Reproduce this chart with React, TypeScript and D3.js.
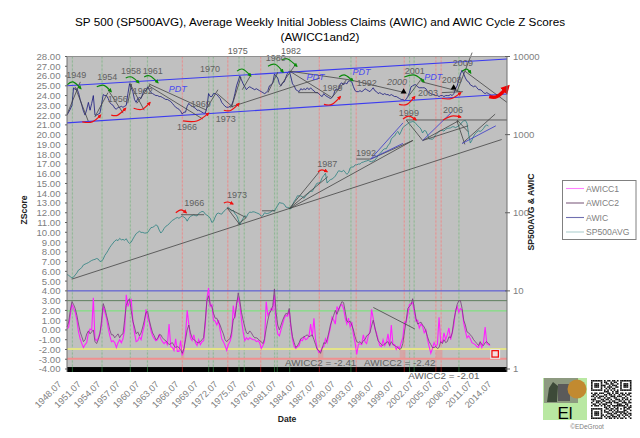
import React from "react";
import * as d3 from "d3";

const startYear = 1948.58;
const quarterStep = 0.25;

const awicValues = [
  22.0,22.3,22.6,23.0, 24.8,24.6,24.7,24.3, 23.6,23.0,22.4,22.0, 22.6,23.3,22.5,23.2,
  24.0,22.0,22.0,22.1, 22.2,23.1,24.1,24.0, 24.0,23.7,23.3,23.1, 23.0,22.7,22.6,22.8,
  22.8,22.9,22.8,22.9, 23.0,24.2,25.2,24.8, 24.4,23.6,23.3,23.7, 23.8,23.7,24.2,24.6,
  24.5,24.9,24.6,24.3, 24.2,24.1,24.0,24.0, 23.9,23.9,23.8,23.7, 23.6,23.6,23.5,23.4,
  23.2,23.0,22.8,22.7, 22.6,22.4,22.1,22.3, 22.3,22.9,23.2,23.0, 22.9,22.8,22.7,22.5,
  22.5,22.4,22.3,22.2, 22.2,22.8,24.2,23.9, 23.9,24.2,24.2,24.1, 23.9,23.7,23.3,23.1,
  22.9,22.8,22.8,22.9, 23.0,23.5,24.2,25.0, 25.5,26.0,25.6,25.2, 24.9,24.6,24.8,24.9,
  24.8,24.7,24.6,24.7, 24.6,24.5,24.4,24.3, 24.2,24.3,24.5,25.0, 25.1,25.3,26.2,26.0,
  25.8,25.2,25.0,25.3, 25.4,25.9,26.3,26.5, 25.9,25.2,25.0,24.6, 24.5,24.4,24.7,24.6,
  24.7,24.6,24.8,24.6, 24.8,24.6,24.5,24.3, 24.3,24.2,24.0,23.9, 24.2,24.0,23.9,23.8,
  23.7,23.8,24.1,24.6, 24.6,24.7,25.2,25.3, 25.1,25.3,25.2,25.5, 25.5,25.4,24.9,24.5,
  24.4,24.4,24.5,24.4, 24.5,24.7,24.6,24.5, 24.4,24.6,24.8,24.5, 24.4,24.2,24.3,24.2,
  24.1,24.2,24.1,24.1, 24.0,24.1,24.0,23.9, 23.9,23.8,23.7,23.6, 23.6,23.5,23.6,23.9,
  24.3,24.9,25.0,25.1, 25.1,24.9,24.8,24.8, 24.8,24.8,24.7,24.4, 24.3,24.2,24.1,24.1,
  24.0,24.0,23.9,24.0, 24.0,23.9,24.0,24.0, 24.0,24.1,24.0,24.2, 24.7,25.0,25.6,26.2,
  26.6,26.2,25.8,25.5, 25.4,25.1,25.0,24.9, 25.0,24.8,24.6,24.6, 24.5,24.3,24.2,24.3,
  24.2,24.1,24.0,23.9, 23.7,
];

const sp500Values = [
  16.2,15.8,15.2,14.6, 15.0,16.0,17.0,18.5, 19.0,20.0,21.5,22.0, 22.5,23.0,23.8,24.5,
  25.0,25.3,26.0,25.5, 23.8,24.0,25.5,28.5, 30.5,33,36,38.5, 41,43.5,45,44,
  47,45,45.5,44.5, 46.5,42.5,40.5,42, 46,50,54,56, 58,56,56,55,
  55,56,60,64.5, 65,67,70,68, 60,55,58,63, 67,69,72,76,
  80,82,85,87, 85,88,91,88, 85,78,85,90, 92,94,92,91,
  98,101,104,103, 96,93,90,85, 75,78,88,97, 99,97,96,103,
  107,113,118,112, 105,108,97,93, 82,70,78,85, 92,88,97,102,
  101,103,102,100, 98,96,90,92, 100,98,98,100, 103,108,105,115,
  124,135,133,132, 128,118,117,115, 112,125,140,150, 165,164,164,160,
  153,165,172,180, 190,187,205,225, 240,240,250,280, 300,320,240,255,
  265,270,280,295, 320,345,340,335, 350,330,310,325, 375,385,385,410,
  410,420,420,440, 445,455,460,470, 455,450,460,470, 500,540,570,600,
  640,660,660,730, 760,880,930,960, 1050,1100,1000,1100, 1230,1280,1330,1380,
  1440,1450,1470,1450, 1380,1300,1250,1180, 1050,1130,1110,1000, 880,880,870,920,
  1000,1050,1100,1130, 1130,1110,1170,1200, 1210,1220,1260,1260, 1230,1260,1300,1350,
  1450,1500,1520,1400, 1000,780,850,950, 1030,1080,1120,1100, 1130,1200,1290,1330,
  1290,
];

const awicc1Values = [
  0.1,0.3,1.5,2.6, 2.2,1.8,1.0,-0.2, -0.9,-1.4,-1.8,-1.5, -1.3,-0.3,0.1,0.0,
  3.3,-0.9,-1.1,-0.8, -0.3,0.5,2.4,1.8, 1.2,0.2,-0.6,-1.2, -1.1,-1.3,-1.8,-1.3,
  -1.0,-1.3,-0.9,0.0, 3.6,2.4,2.9,3.1, 1.0,-0.3,-1.2,-1.1, -0.7,-1.0,-0.2,0.5,
  2.1,1.2,0.8,-0.1, -0.6,-0.9,-1.1,-1.0, -0.5,-0.9,-1.2,-1.4, -1.2,-1.5,0.6,-1.7,
  -1.8,-2.1,-0.9,-2.2, -2.2,-1.1,-2.6,-2.1, -0.5,2.0,0.6,-0.8, -1.1,-0.5,-1.3,-1.6,
  -1.0,-1.5,-1.2,-1.1, 0.5,3.2,4.3,2.4, 2.6,1.0,0.9,0.5, 1.0,0.0,-0.9,-1.2,
  -1.6,-2.1,-1.5,-1.2, -0.6,2.5,1.2,2.8, 3.3,2.6,1.0,-0.2, -1.1,-0.8,-1.0,-0.8,
  -0.9,-1.0,-1.0,-1.2, -1.1,-1.3,-1.9,-1.6, -1.2,2.9,1.5,1.8, 2.2,2.0,3.6,0.6,
  -0.4,-0.6,0.0,0.6, 1.2,1.5,1.4,2.0, 0.3,-1.0,-1.7,-1.9, -1.7,-1.6,-1.0,-1.1,
  -0.7,-1.0,-0.9,-0.6, 0.6,-0.7,1.2,-1.0, -1.9,-2.3,-2.2,-1.8, -1.7,-0.9,-1.3,-0.5,
  0.2,1.3,1.0,0.6, 2.4,2.0,2.5,2.6, 2.2,1.2,0.6,1.2, 0.3,0.8,-0.5,-1.3,
  -2.5,-1.5,-1.4,-1.5, -0.5,-1.2,-1.4,-0.6, -0.2,2.1,1.2,0.1, -0.3,-1.0,-1.6,-1.7,
  -1.0,-1.6,-1.3,-0.4, -1.7,0.5,-1.5,-1.5, -2.0,-1.7,-1.9,-1.3, -0.8,0.8,0.8,1.6,
  2.6,2.7,2.8,1.8, 0.9,1.0,0.2,0.6, 0.4,-0.3,0.0,-1.0, -1.7,-2.4,-1.9,-1.3,
  -1.7,-1.5,1.3,-1.2, -1.3,-0.3,-1.0,-0.5, 0.2,-1.0,-0.3,0.5, 2.0,2.4,1.8,2.2,
  2.0,0.7,-0.1,-0.8, -0.6,-0.9,-1.3,-1.4, -1.5,-1.7,-1.8,-1.3, -1.8,-1.3,0.3,-1.4,
  -1.5,-1.6,
];

const awicc2Values = [
  0.3,0.8,2.0,2.9, 2.6,2.2,1.5,0.6, -0.2,-0.7,-1.2,-1.0, -0.4,-0.1,-0.4,-0.2,
  0.0,-1.2,-1.4,-1.0, -0.4,1.0,2.7,2.2, 1.5,0.8,0.0,-0.5, -0.5,-0.8,-0.6,-0.4,
  -0.8,-0.5,-0.4,1.0, 2.5,3.0,3.2,2.0, 0.9,0.3,-0.4,-0.2, -0.6,-0.3,0.3,1.0,
  1.8,1.9,1.0,0.3, -0.3,-0.6,-1.0,-0.9, -0.5,-0.5,-0.8,-1.0, -1.1,-1.3,-1.5,-1.4,
  -1.3,-1.6,-1.8,-1.7, -1.8,-2.0,-2.4,-1.9, -1.0,0.0,0.5,-0.3, -0.8,-1.0,-1.1,-1.3,
  -1.3,-1.2,-1.0,-0.8, 1.0,3.0,3.5,2.6, 2.4,1.7,1.2,1.2, 0.8,0.5,0.0,-0.4,
  -1.0,-1.2,-1.0,-0.9, -0.2,1.0,1.4,2.5, 3.8,3.0,1.8,1.0, 0.3,-0.3,-0.4,-0.1,
  -0.3,-0.6,-0.8,-0.8, -0.9,-1.1,-1.2,-1.4, -0.9,0.1,1.0,1.7, 2.0,2.5,4.2,1.8,
  0.5,0.0,0.5,1.0, 1.4,1.7,1.6,2.2, 0.5,-0.7,-1.3,-1.8, -1.6,-1.3,-0.9,-0.8,
  -0.7,-0.6,-0.5,-0.7, -0.6,-0.5,-1.0,-1.5, -2.0,-2.1,-2.4,-1.9, -1.3,-1.4,-1.0,-0.3,
  0.5,1.0,1.5,2.0, 1.6,2.1,2.5,2.9, 2.8,1.9,0.9,0.8, 0.9,0.5,0.0,-0.7,
  -1.2,-1.3,-1.2,-1.4, -1.1,-1.0,-0.6,-0.5, -0.3,0.4,1.0,0.3, -0.5,-1.1,-1.3,-1.5,
  -1.6,-1.4,-1.3,-1.2, -1.6,-1.2,-1.5,-1.6, -1.7,-1.8,-2.0,-1.9, -1.4,-0.2,0.9,2.2,
  2.4,2.6,3.2,2.2, 1.2,0.6,0.7,0.8, 0.5,0.3,-0.1,-0.7, -1.2,-1.5,-1.8,-1.8,
  -1.7,-1.9,-1.8,-1.2, -1.4,-1.0,-1.3,-1.2, -0.7,-0.8,-0.3,1.0, 1.8,2.6,3.0,3.0,
  2.2,1.0,0.5,-0.2, -0.3,-0.5,-0.7,-1.0, -1.2,-1.4,-1.6,-1.2, -1.5,-1.6,-1.3,-1.2,
  -1.4,-1.5,
];

const zTicks = d3.range(-4, 29);
const logTicks = [1, 10, 100, 1000, 10000];
const dateLabels = ["1948.07","1951.07","1954.07","1957.07","1960.07","1963.07","1966.07","1969.07","1972.07","1975.07","1978.07","1981.07","1984.07","1987.07","1990.07","1993.07","1996.07","1999.07","2002.07","2005.07","2008.07","2011.07","2014.07"];

const greenYears = [1949.4,1953.9,1958.2,1960.8,1970.1,1970.8,1974.7,1975.5,1980.1,1980.5,1982.4,1991.7,2000.6,2001.3,2008.1];
const redYears = [1966.1,1973.0,1978.0,1986.9,1992.5,1999.8,2004.6,2005.4];
const redBands: number[][] = [[1965.9,1966.4],[1986.7,1987.5],[1999.1,1999.98],[2004.6,2005.6]];

// [year, z, year, z]
const channelLines = [[1948.58,25.0,2015.4,27.74],[1948.58,21.2,2015.4,24.16]];
const blackLines = [
  [1948.6,22.1,1950.6,25.4],[1949.8,24.9,1951.8,21.4],[1952.8,21.8,1954.8,24.3],[1954.8,24.6,1957.1,22.2],
  [1957.8,23.2,1958.4,25.2],[1958.1,25.3,1960.3,22.5],[1959.2,23.2,1961.2,25.1],
  [1961.0,25.2,1969.8,22.5],[1961.0,25.0,1969.2,21.6],[1969.8,22.7,1971.5,24.6],[1971.4,24.2,1973.8,22.8],
  [1973.6,22.9,1975.0,25.9],[1976.5,26.1,1975.2,24.6],[1973.3,22.8,1987.0,25.8],
  [1979.1,24.3,1980.6,26.4],[1980.9,24.9,1983.2,27.1],[1982.4,26.5,1991.6,25.6],[1982.4,26.5,1988.8,23.8],
  [1983.7,24.3,1986.7,24.3],[1988.8,23.8,1991.0,25.6],[1991.6,25.6,1999.9,24.3],[2000.4,23.9,2002.5,25.8],
  [2002.5,25.4,2008.3,24.4],[2005.5,24.3,2008.7,24.4],[2007.8,24.4,2010.1,28.4],[2009.0,26.5,2015.4,23.3],
  [1949.3,5.2,2014.6,19.5],[1982.3,12.4,1986.9,16.2],[1982.3,12.4,1988.2,15.7],[1982.3,12.4,2001.1,19.4],
  [1994.7,17.5,2001.1,19.4],[2000.1,21.5,2015.4,21.5],[2000.1,21.5,2002.6,19.4],
  [2002.6,19.4,2008.0,21.4],[2002.6,19.4,2009.5,20.9],[2007.8,21.4,2009.0,19.0],[2007.8,21.5,2009.5,20.3],
  [2008.6,19.1,2013.6,22.1],[1972.9,12.5,1975.8,11.5],[1972.9,12.5,1974.8,10.8],[1974.5,10.8,1975.8,11.5],
  [1965.9,11.8,1969.4,11.8],[1978.2,12.2,1980.2,12.2],[1992.5,17.5,1994.7,17.5],[1995.1,2.3,2001.4,0.1],
];
const blueLines = [
  [1994.7,17.5,1999.6,21.2],[1994.7,17.5,1999.6,19.1],[2002.6,19.4,2007.0,22.3],[2008.6,19.1,2013.7,20.9],
];

const greenArrows = [
  [1948.6,25.1,1949.5,25.4,1950.7,24.7],[1953.1,24.9,1954.2,25.05,1955.3,24.4],[1957.5,25.8,1958.4,25.9,1959.5,25.3],
  [1960.3,25.9,1961.2,26.0,1962.4,25.3],[1974.4,26.5,1975.3,26.7,1976.5,26.0],[1979.1,27.0,1980.2,27.2,1981.4,26.4],
  [1981.2,27.64,1982.1,27.75,1983.5,27.0],[1989.9,25.9,1990.8,26.1,1992.0,25.5],[1999.8,25.9,2001.4,26.1,2002.8,25.4],
  [2008.6,26.5,2009.3,26.7,2009.9,26.3],
];
const redArrows = [
  [1950.9,21.3,1952.4,21.3,1953.7,22.0],[1955.3,22.0,1956.3,22.0,1957.5,22.7],[1958.7,22.7,1960.0,22.6,1961.2,23.3],
  [1966.2,21.4,1968.3,21.4,1970.1,22.2],[1972.4,22.5,1973.5,22.5,1974.7,23.2],[1987.6,23.1,1988.8,23.1,1990.1,23.9],
  [1999.0,23.1,2000.2,23.1,2001.4,23.9],[2005.5,23.7,2007.0,23.7,2008.4,24.3],
  [1965.1,12.0,1965.9,12.3,1966.7,12.0],[1972.4,13.0,1973.0,13.1,1973.8,12.9],[1986.7,16.2,1987.3,16.4,1988.1,16.2],
  [1999.6,21.6,2000.5,21.9,2001.6,21.5],[2005.7,21.5,2007.0,21.9,2008.4,21.8],
];
const bigArrow = [2012.7,23.9,2013.9,23.9,2015.4,24.8];
const blackMarkers = [[1999.7,24.4],[2007.3,24.8]];

const yearNotes: [number, number, string][] = [
  [1950,26.1,"1949"],[1954.7,25.9,"1954"],[1958.3,26.5,"1958"],[1961.6,26.5,"1961"],[1956.3,23.7,"1956"],[1960.1,24.5,"1962"],
  [1966.8,20.8,"1966"],[1968.9,23.2,"1969"],[1970.3,26.7,"1970"],[1972.7,21.6,"1973"],[1974.5,28.6,"1975"],[1980.3,27.85,"1980"],
  [1982.6,28.6,"1982"],[1988.9,24.8,"1989"],[1994.1,25.3,"1992"],[2001.4,26.5,"2001"],[2003.4,24.3,"2003"],[2007.0,25.6,"2008"],
  [2008.7,27.4,"2009"],[1967.9,13,"1966"],[1974.4,13.8,"1973"],[1988.1,17,"1987"],[1994,18.1,"1992"],[2000.5,22.2,"1999"],[2007.2,22.5,"2006"],
];
const italicNotes: [number, number, string][] = [[1998.7,25.4,"2000"]];
const pdtNotes: [number, number][] = [[1965.4,24.7],[1986.3,25.9],[1993.3,26.4],[2004.2,25.9]];
const awiccNotes: [number, number, string][] = [[1981.7,-3.37,"AWICC2 = -2.41"],[1993.7,-3.37,"AWICC2 = -2.42"],[2000.4,-4.7,"AWICC2 = -2.01"]];
const currentMark = [2013.6, -2.45];

const legendNames = ["AWICC1","AWICC2","AWIC","SP500AVG"];
const legendColors = ["#ff80ff","#806080","#7070b0","#b0d0d0"];

const qrRows = [
  "1111111010110110101111111","1000001011001011001000001","1011101001101100101011101","1011101110010111001011101",
  "1011101010111001101011101","1000001001010110001000001","1111111010101010101111111","0000000011100101100000000",
  "1011011100110101101101011","0110100011011010010110110","1101011101001110111001001","0010110010110011000110100",
  "1110001101101001110101101","0101110110010110011010010","1001101001111011100111011","0110010111001000111001100",
  "1011101010110111111110101","0000000011010010100011011","1111111001101101101010110","1000001010011010100011001",
  "1011101011100101111110100","1011101000111011001011011","1011101101001100110101101","1000001010110111010010010",
  "1111111001011010101101001",
];

const plot = { left: 67, right: 507, top: 56.5, bottom: 372 };
const x = d3.scaleLinear().domain([startYear, 2015.4]).range([plot.left, plot.right]);
const z = d3.scaleLinear().domain([-4, 28]).range([369, 56.5]);
const logY = d3.scaleLog().domain([1, 10000]).range([369, 56.5]);
const labelX = d3.scalePoint<string>().domain(dateLabels).range([62, 492]);
const fmt = (v: number) => d3.format(".2f")(v).replace("\u2212", "-");
const dateOf = (i: number) => startYear + i * quarterStep;

const zLine = d3.line<number>().x((_, i) => x(dateOf(i))).y((v) => z(v));
const logLine = d3.line<number>().x((_, i) => x(dateOf(i))).y((v) => logY(v));
const arc = d3.line<number[]>().x((p) => x(p[0])).y((p) => z(p[1])).curve(d3.curveNatural);
const arcPath = (a: number[]) => arc([[a[0], a[1]], [a[2], a[3]], [a[4], a[5]]]) || "";

const font = "'Liberation Sans', Arial, sans-serif";
const grey = "#808080";

export default function App() {
  return (
    <svg width={640} height={438} viewBox="0 0 640 438" style={{ position: "absolute", left: 0, top: 0, display: "block", background: "#fff" }} fontFamily={font}>
      <defs>
        <marker id="gh" markerWidth="5" markerHeight="5" refX="3" refY="2" orient="auto" markerUnits="userSpaceOnUse"><path d="M0,0L4,2L0,4Z" fill="#0a8a0a" /></marker>
        <marker id="rh" markerWidth="5" markerHeight="5" refX="3" refY="2" orient="auto" markerUnits="userSpaceOnUse"><path d="M0,0L4,2L0,4Z" fill="#f01010" /></marker>
        <marker id="bh" markerWidth="12" markerHeight="12" refX="5" refY="5" orient="auto" markerUnits="userSpaceOnUse"><path d="M0,0L9,5L0,10Z" fill="#f00000" /></marker>
      </defs>

      <text x={320} y={26} textAnchor="middle" fontSize={11.7} fill="#000">SP 500 (SP500AVG), Average Weekly Initial Jobless Claims (AWIC) and AWIC Cycle Z Scores</text>
      <text x={320} y={41} textAnchor="middle" fontSize={11.7} fill="#000">(AWICC1and2)</text>

      <rect x={plot.left} y={plot.top} width={plot.right - plot.left} height={plot.bottom - plot.top} fill="#c0c0c0" />

      {greenYears.map((y, i) => <g key={i}><line x1={x(y)} x2={x(y)} y1={plot.top} y2={plot.bottom} stroke="#b2c4b2" strokeWidth={1.4} /><line x1={x(y)} x2={x(y)} y1={plot.top} y2={plot.bottom} stroke="#7aa884" strokeWidth={0.6} strokeDasharray="2 2" /></g>)}
      {redYears.map((y, i) => <g key={i}><line x1={x(y)} x2={x(y)} y1={plot.top} y2={plot.bottom} stroke="#d2b2b2" strokeWidth={1.4} /><line x1={x(y)} x2={x(y)} y1={plot.top} y2={plot.bottom} stroke="#e88080" strokeWidth={0.6} strokeDasharray="2 2" /></g>)}

      {redBands.map((b, i) => <rect key={i} x={x(b[0])} width={x(b[1]) - x(b[0])} y={z(-1.9)} height={z(-2.95) - z(-1.9)} fill="#d8a0a0" opacity={0.8} />)}

      <line x1={plot.left} x2={plot.right} y1={z(4)} y2={z(4)} stroke="#4a4ad8" strokeWidth={1} />
      <line x1={plot.left} x2={plot.right} y1={z(3)} y2={z(3)} stroke="#5f7f5f" strokeWidth={1} />
      <line x1={plot.left} x2={plot.right} y1={z(1.95)} y2={z(1.95)} stroke="#70e870" strokeWidth={1} />
      <line x1={plot.left} x2={plot.right} y1={z(-1.95)} y2={z(-1.95)} stroke="#e4e488" strokeWidth={2} />
      <line x1={plot.left} x2={plot.right} y1={z(-2.95)} y2={z(-2.95)} stroke="#f09090" strokeWidth={2} />

      <rect x={plot.left} y={z(-3.8)} width={plot.right - plot.left} height={plot.bottom - z(-3.8)} fill="#000" />
      {greenYears.map((y, i) => <line key={i} x1={x(y)} x2={x(y)} y1={z(-3.8)} y2={plot.bottom} stroke="#1f5a2a" strokeWidth={1} />)}
      {redYears.map((y, i) => <line key={i} x1={x(y)} x2={x(y)} y1={z(-3.8)} y2={plot.bottom} stroke="#7a1010" strokeWidth={1} />)}

      <path d={zLine(awicc1Values) || ""} fill="none" stroke="#ff20ff" strokeWidth={1.1} />
      <path d={zLine(awicc2Values) || ""} fill="none" stroke="#7a3a7e" strokeWidth={0.8} />
      <path d={logLine(sp500Values) || ""} fill="none" stroke="#2a8080" strokeWidth={0.8} />
      <path d={zLine(awicValues) || ""} fill="none" stroke="#16167e" strokeWidth={0.8} />

      {channelLines.map((l, i) => <line key={i} x1={x(l[0])} y1={z(l[1])} x2={x(l[2])} y2={z(l[3])} stroke="#3c3cf0" strokeWidth={1.1} />)}
      {blackLines.map((l, i) => <line key={i} x1={x(l[0])} y1={z(l[1])} x2={x(l[2])} y2={z(l[3])} stroke="#444" strokeWidth={0.8} />)}
      {blueLines.map((l, i) => <line key={i} x1={x(l[0])} y1={z(l[1])} x2={x(l[2])} y2={z(l[3])} stroke="#4646c8" strokeWidth={0.9} />)}
      {greenArrows.map((a, i) => <path key={i} d={arcPath(a)} fill="none" stroke="#0a8a0a" strokeWidth={1.2} markerEnd="url(#gh)" />)}
      {redArrows.map((a, i) => <path key={i} d={arcPath(a)} fill="none" stroke="#f01010" strokeWidth={1.2} markerEnd="url(#rh)" />)}
      <path d={arcPath(bigArrow)} fill="none" stroke="#f00000" strokeWidth={3.4} markerEnd="url(#bh)" />
      {blackMarkers.map((m, i) => <path key={i} d={d3.symbol().type(d3.symbolTriangle).size(16)() || ""} transform={`translate(${x(m[0])},${z(m[1])})`} fill="#000" />)}

      <rect x={x(currentMark[0]) - 5} y={z(currentMark[1]) - 5} width={10} height={10} fill="#e6e6e6" />
      <rect x={x(currentMark[0]) - 3.2} y={z(currentMark[1]) - 3.2} width={6.4} height={6.4} fill="#f4dcdc" stroke="#f00000" strokeWidth={1.2} />

      {yearNotes.map((n, i) => <text key={i} x={x(n[0])} y={z(n[1])} dy="0.35em" textAnchor="middle" fontSize={9} fill="#606060">{n[2]}</text>)}
      {italicNotes.map((n, i) => <text key={i} x={x(n[0])} y={z(n[1])} dy="0.35em" textAnchor="middle" fontSize={9} fontStyle="italic" fill="#606060">{n[2]}</text>)}
      {pdtNotes.map((n, i) => <text key={i} x={x(n[0])} y={z(n[1])} dy="0.35em" textAnchor="middle" fontSize={9} fontStyle="italic" fill="#4a4af0">PDT</text>)}
      {awiccNotes.map((n, i) => <text key={i} x={x(n[0])} y={z(n[1])} dy="0.35em" fontSize={9.8} fill="#606060">{n[2]}</text>)}

      <line x1={plot.left} x2={plot.left} y1={plot.top} y2={plot.bottom} stroke="#707070" />
      <line x1={plot.right} x2={plot.right} y1={plot.top} y2={plot.bottom} stroke="#707070" />
      <line x1={plot.left} x2={plot.right} y1={plot.top} y2={plot.top} stroke="#909090" />

      {zTicks.map((t) => <g key={t}>
        <line x1={plot.left - 2} x2={plot.left} y1={z(t)} y2={z(t)} stroke="#606060" />
        <text x={60.5} y={z(t)} dy="0.36em" textAnchor="end" fontSize={9.6} fill={grey}>{fmt(t)}</text>
      </g>)}
      {logTicks.map((t) => <g key={t}>
        <line x1={plot.right - 2} x2={plot.right + 3} y1={logY(t)} y2={logY(t)} stroke="#606060" />
        <text x={513} y={logY(t)} dy="0.36em" fontSize={9.6} fill={grey}>{d3.format("d")(t)}</text>
      </g>)}
      {dateLabels.map((d) => <text key={d} transform={`translate(${labelX(d)},385) rotate(-45)`} textAnchor="end" fontSize={9.2} fill={grey}>{d}</text>)}

      <text transform="translate(27,210) rotate(-90)" textAnchor="middle" fontSize={8.6} fontWeight="bold" fill="#222">ZScore</text>
      <text transform="translate(534,212) rotate(-90)" textAnchor="middle" fontSize={8.6} fontWeight="bold" fill="#222">SP500AVG &amp; AWIC</text>
      <text x={287} y={422} textAnchor="middle" fontSize={8.6} fontWeight="bold" fill="#222">Date</text>

      <rect x={562.5} y={180.5} width={73.5} height={59} fill="#fff" stroke={grey} />
      {legendNames.map((n, i) => <g key={n}>
        <line x1={566} x2={584} y1={188.5 + i * 14.5} y2={188.5 + i * 14.5} stroke={legendColors[i]} strokeWidth={1.1} />
        <text x={586} y={188.5 + i * 14.5} dy="0.36em" fontSize={8.6} fill={grey}>{n}</text>
      </g>)}

      <rect x={543} y={378} width={44} height={42} fill="#b9e8a2" />
      <rect x={544} y={378} width={34} height={25} fill="#8d9a80" />
      <path d="M547,402 L549,388 L553,382 L558,386 L557,402Z" fill="#3d4a38" />
      <rect x={558} y={384} width={12} height={17} fill="#5a5a5a" />
      <circle cx={577} cy={389} r={9.5} fill="#c28a30" />
      <text x={565} y={419} textAnchor="middle" fontSize={17} fill="#000">El</text>

      <g transform="translate(591,380)">
        {qrRows.map((row, r) => row.split("").map((c, k) => c === "1" ? <rect key={`${r}-${k}`} x={k * 1.62} y={r * 1.56} width={1.62} height={1.56} fill="#111" /> : null))}
      </g>
      <text x={587} y={429} textAnchor="middle" fontSize={6.5} fill={grey}>©EDeGroot</text>
    </svg>
  );
}
